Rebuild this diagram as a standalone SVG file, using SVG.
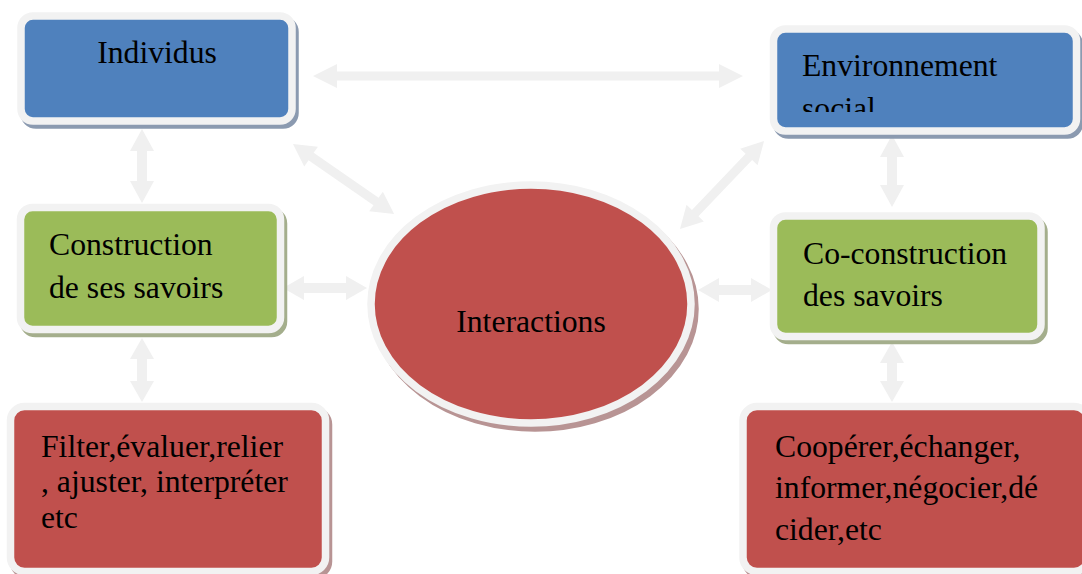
<svg xmlns="http://www.w3.org/2000/svg" width="1082" height="574" viewBox="0 0 1082 574">
  <style>
    .label { font-family: "Liberation Serif", "Times New Roman", serif; font-size: 31.7px; fill: #000; }
    .mid { text-anchor: middle; }
    .frame { stroke: #f2f2f2; stroke-width: 7.5; }
    .blue { fill: #4f81bd; }
    .green { fill: #9bbb59; }
    .red { fill: #c0504d; }
    .sh-blue { fill: #8b9ab0; stroke: #8b9ab0; stroke-width: 7.5; }
    .sh-green { fill: #a4ae8c; stroke: #a4ae8c; stroke-width: 7.5; }
    .sh-red { fill: #b89494; stroke: #b89494; stroke-width: 7.5; }
    .arrow { fill: #f0f0f0; }
  </style>
  <defs>
    <clipPath id="envText">
      <rect x="777" y="33" width="296" height="79"/>
    </clipPath>
  </defs>

  <rect width="1082" height="574" fill="#ffffff"/>

  <!-- two-way arrows between the nodes -->
  <g id="connectors">
    <!-- Individus <-> Environnement social -->
    <polygon class="arrow" points="313,76 337,64 337,71.5 719,71.5 719,64 743,76 719,88 719,80.5 337,80.5 337,88"/>
    <!-- Individus <-> Interactions -->
    <polygon class="arrow" transform="translate(293,144) rotate(34.7)" points="0,0 22,-12 22,-4.5 101,-4.5 101,-12 123,0 101,12 101,4.5 22,4.5 22,12"/>
    <!-- Interactions <-> Environnement social -->
    <polygon class="arrow" transform="translate(680,229) rotate(-46.3)" points="0,0 22,-12 22,-4.5 99.7,-4.5 99.7,-12 121.7,0 99.7,12 99.7,4.5 22,4.5 22,12"/>
    <!-- Individus <-> Construction -->
    <polygon class="arrow" points="142,129 154,151 147,151 147,181 154,181 142,203 130,181 137,181 137,151 130,151"/>
    <!-- Construction <-> Filter -->
    <polygon class="arrow" points="142,338 154,359 147,359 147,381 154,381 142,402 130,381 137,381 137,359 130,359"/>
    <!-- Construction <-> Interactions -->
    <polygon class="arrow" points="283,288 304,276 304,283 346,283 346,276 367,288 346,300 346,293 304,293 304,300"/>
    <!-- Interactions <-> Co-construction -->
    <polygon class="arrow" points="698,290 719,278 719,285 751,285 751,278 772,290 751,302 751,295 719,295 719,302"/>
    <!-- Environnement social <-> Co-construction -->
    <polygon class="arrow" points="892,135 904,157 897,157 897,185 904,185 892,207 880,185 887,185 887,157 880,157"/>
    <!-- Co-construction <-> Coopérer -->
    <polygon class="arrow" points="892,342 904,363 897,363 897,381 904,381 892,402 880,381 887,381 887,363 880,363"/>
  </g>

  <g id="individus">
    <rect class="sh-blue" x="24" y="20" width="271" height="105" rx="12"/>
    <rect class="blue frame" x="21" y="16" width="271" height="105" rx="12"/>
    <text class="label mid" x="157" y="63">Individus</text>
  </g>

  <g id="environnement">
    <rect class="sh-blue" x="776.5" y="33" width="303" height="102" rx="12"/>
    <rect class="blue frame" x="773.5" y="29" width="303" height="102" rx="12"/>
    <text class="label" clip-path="url(#envText)"><tspan x="802" y="76">Environnement</tspan><tspan x="802" y="119">social</tspan></text>
  </g>

  <g id="construction">
    <rect class="sh-green" x="23.5" y="211.5" width="260" height="122" rx="12"/>
    <rect class="green frame" x="20.5" y="207.5" width="260" height="122" rx="12"/>
    <text class="label"><tspan x="49" y="255">Construction</tspan><tspan x="49" y="298">de ses savoirs</tspan></text>
  </g>

  <g id="coconstruction">
    <rect class="sh-green" x="776.5" y="220" width="267.5" height="120.5" rx="12"/>
    <rect class="green frame" x="773.5" y="216" width="267.5" height="120.5" rx="12"/>
    <text class="label"><tspan x="803" y="264">Co-construction</tspan><tspan x="803" y="306">des savoirs</tspan></text>
  </g>

  <g id="interactions">
    <ellipse class="sh-red" cx="535" cy="309" rx="160" ry="119"/>
    <ellipse class="red frame" cx="531" cy="304" rx="160" ry="119"/>
    <text class="label mid" x="531" y="332">Interactions</text>
  </g>

  <g id="filter">
    <rect class="sh-red" x="13.5" y="410.5" width="315" height="165" rx="14"/>
    <rect class="red frame" x="10.5" y="406.5" width="315" height="165" rx="14"/>
    <text class="label"><tspan x="41" y="457">Filter,évaluer,relier</tspan><tspan x="41" y="492">, ajuster, interpréter</tspan><tspan x="41" y="528">etc</tspan></text>
  </g>

  <g id="cooperer">
    <rect class="sh-red" x="746" y="410.5" width="345" height="165" rx="14"/>
    <rect class="red frame" x="743" y="406.5" width="345" height="165" rx="14"/>
    <text class="label"><tspan x="775" y="457">Coopérer,échanger,</tspan><tspan x="775" y="498">informer,négocier,dé</tspan><tspan x="775" y="540">cider,etc</tspan></text>
  </g>
</svg>
